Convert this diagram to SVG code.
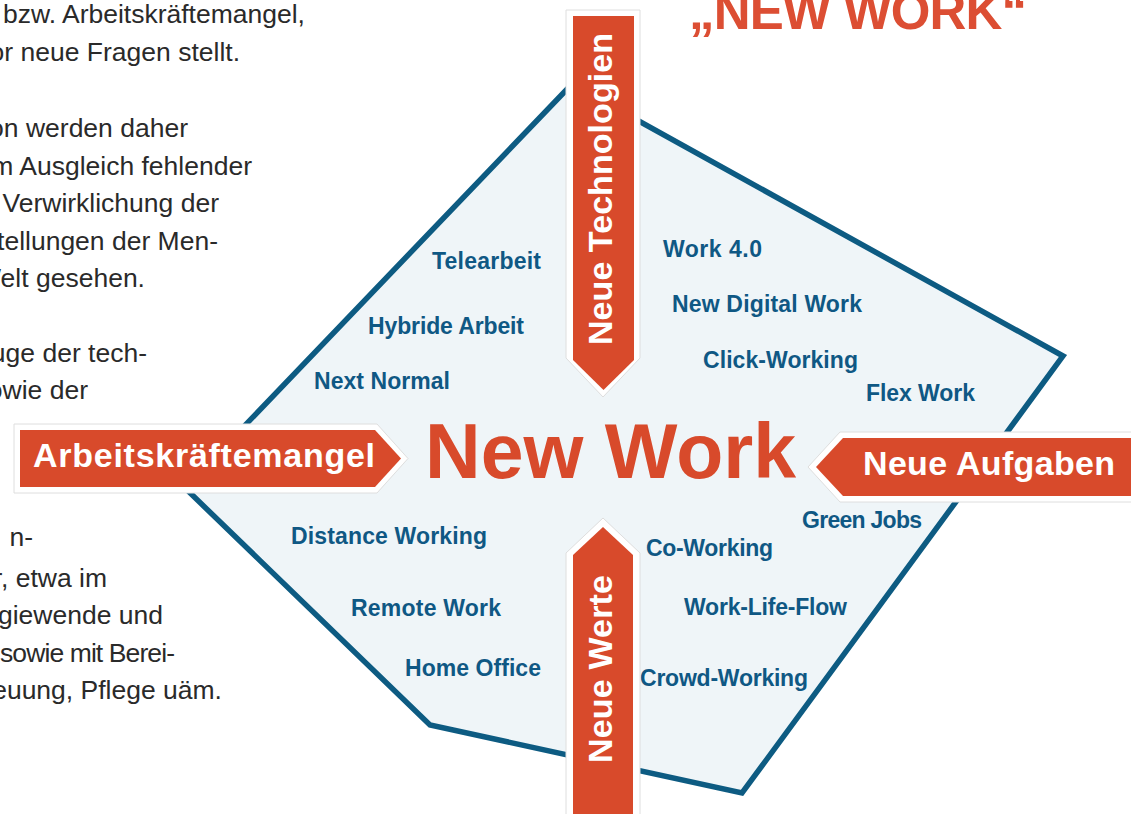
<svg xmlns="http://www.w3.org/2000/svg" width="1131" height="814" viewBox="0 0 1131 814">
  <style>
    .body { font-family: "Liberation Sans", Arial, sans-serif; font-size: 26.5px; fill: #2a2a2a; text-anchor: end; }
    .term { font-family: "Liberation Sans", Arial, sans-serif; font-size: 23px; font-weight: bold; fill: #0f5884; }
    .tag { font-family: "Liberation Sans", Arial, sans-serif; font-size: 34px; font-weight: bold; fill: #ffffff; }
    .halo { fill: #ffffff; stroke: #dedede; stroke-width: 1; }
    .arrow { fill: #d84a2b; }
  </style>

  <!-- running text column, cut off at the left edge -->
  <g id="body-text" class="body">
    <text x="305" y="23">bzw. Arbeitskräftemangel,</text>
    <text x="240" y="61">or neue Fragen stellt.</text>
    <text x="188" y="137">on werden daher</text>
    <text x="252" y="175">m Ausgleich fehlender</text>
    <text x="219" y="212">Verwirklichung der</text>
    <text x="218" y="250">tellungen der Men-</text>
    <text x="145" y="287">Welt gesehen.</text>
    <text x="147" y="362">uge der tech-</text>
    <text x="88" y="399">owie der</text>
    <text x="33" y="546">n-</text>
    <text x="107" y="587">r, etwa im</text>
    <text x="163" y="624">giewende und</text>
    <text x="175" y="662" textLength="175">sowie mit Berei-</text>
    <text x="222" y="699">euung, Pflege uäm.</text>
  </g>

  <!-- heading -->
  <g id="title">
    <text x="689" y="29" textLength="338" font-family="Liberation Sans, Arial, sans-serif" font-size="51" font-weight="bold" fill="#dc4e33">„NEW WORK“</text>
  </g>

  <!-- central field -->
  <g id="field">
    <polygon points="572,84 1063,356 742,793 430,725 185,488" fill="#eff5f8" stroke="#0d5b82" stroke-width="5.5" stroke-linejoin="miter"/>
  </g>

  <g id="terms" class="term">
    <text x="432" y="269" textLength="109">Telearbeit</text>
    <text x="368" y="334" textLength="156">Hybride Arbeit</text>
    <text x="314" y="389" textLength="136">Next Normal</text>
    <text x="663" y="257" textLength="99">Work 4.0</text>
    <text x="672" y="312" textLength="190">New Digital Work</text>
    <text x="703" y="368" textLength="155">Click-Working</text>
    <text x="866" y="401" textLength="109">Flex Work</text>
    <text x="802" y="528" textLength="120">Green Jobs</text>
    <text x="646" y="556" textLength="127">Co-Working</text>
    <text x="684" y="615" textLength="163">Work-Life-Flow</text>
    <text x="640" y="686" textLength="168">Crowd-Working</text>
    <text x="291" y="544" textLength="196">Distance Working</text>
    <text x="351" y="616" textLength="150">Remote Work</text>
    <text x="405" y="676" textLength="136">Home Office</text>
  </g>

  <!-- four driver arrows pointing to the centre -->
  <g id="connectors">
    <g id="arrow-top">
      <polygon class="halo" points="566,10 640,10 640,358 603,397 566,358"/>
      <polygon class="arrow" points="573,16 634,16 634,360 603.5,390 573,360"/>
      <text class="tag" transform="translate(612,189) rotate(-90)" text-anchor="middle" textLength="312">Neue Technologien</text>
    </g>
    <g id="arrow-bottom">
      <polygon class="halo" points="566,830 566,553 603,518 640,553 640,830"/>
      <polygon class="arrow" points="573,830 573,555 603,527 633,555 633,830"/>
      <text class="tag" transform="translate(612,669) rotate(-90)" text-anchor="middle" textLength="188">Neue Werte</text>
    </g>
    <g id="arrow-left">
      <polygon class="halo" points="14,424 377,424 408,458.5 377,493 14,493"/>
      <polygon class="arrow" points="20,430 375,430 401,458.5 375,487 20,487"/>
      <text class="tag" x="33" y="467" textLength="342">Arbeitskräftemangel</text>
    </g>
    <g id="arrow-right">
      <polygon class="halo" points="1140,432 840,432 808,467 840,502 1140,502"/>
      <polygon class="arrow" points="1140,438 843,438 816,467 843,496 1140,496"/>
      <text class="tag" x="863" y="475" textLength="252">Neue Aufgaben</text>
    </g>
  </g>

  <!-- centre label -->
  <g id="center">
    <text x="425" y="478" textLength="371" font-family="Liberation Sans, Arial, sans-serif" font-size="77" font-weight="bold" fill="#d84a2b">New Work</text>
  </g>
</svg>
